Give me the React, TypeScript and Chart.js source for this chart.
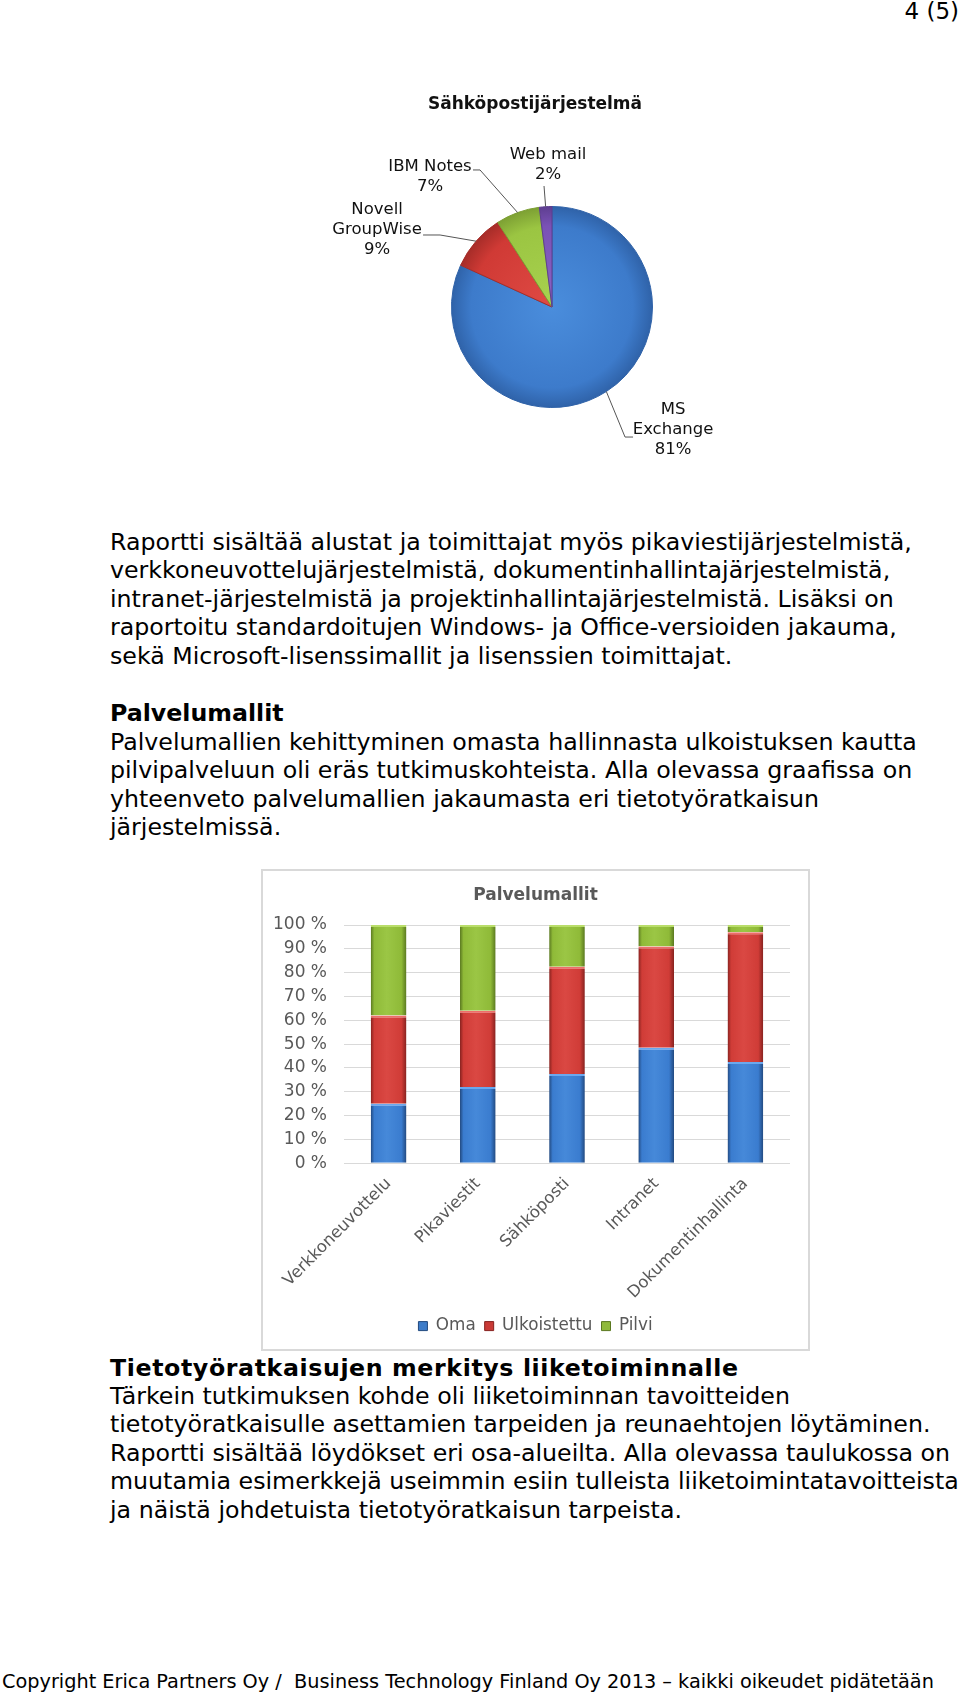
import React, { useEffect, useRef } from 'react';
import { Chart, registerables } from 'chart.js';

Chart.register(...registerables);

// ---------- data ----------
const pieTitle = 'Sähköpostijärjestelmä';
const pieLabelLines = [['MS', 'Exchange'], ['Novell', 'GroupWise'], ['IBM Notes'], ['Web mail']];
const pieValues = [81, 9, 7, 2];

const barTitle = 'Palvelumallit';
const barCategories = ['Verkkoneuvottelu', 'Pikaviestit', 'Sähköposti', 'Intranet', 'Dokumentinhallinta'];
const seriesNames = ['Oma', 'Ulkoistettu', 'Pilvi'];
const omaValues = [25, 32, 37.5, 48.5, 42.5];
const ulkoistettuValues = [37, 32, 45, 42.5, 54.5];
const pilviValues = [38, 36, 17.5, 9, 3];

const para1 = [
  'Raportti sisältää alustat ja toimittajat myös pikaviestijärjestelmistä,',
  'verkkoneuvottelujärjestelmistä, dokumentinhallintajärjestelmistä,',
  'intranet-järjestelmistä ja projektinhallintajärjestelmistä. Lisäksi on',
  'raportoitu standardoitujen Windows- ja Office-versioiden jakauma,',
  'sekä Microsoft-lisenssimallit ja lisenssien toimittajat.',
];
const heading1 = 'Palvelumallit';
const para2 = [
  'Palvelumallien kehittyminen omasta hallinnasta ulkoistuksen kautta',
  'pilvipalveluun oli eräs tutkimuskohteista. Alla olevassa graafissa on',
  'yhteenveto palvelumallien jakaumasta eri tietotyöratkaisun',
  'järjestelmissä.',
];
const heading2 = 'Tietotyöratkaisujen merkitys liiketoiminnalle';
const para3 = [
  'Tärkein tutkimuksen kohde oli liiketoiminnan tavoitteiden',
  'tietotyöratkaisulle asettamien tarpeiden ja reunaehtojen löytäminen.',
  'Raportti sisältää löydökset eri osa-alueilta. Alla olevassa taulukossa on',
  'muutamia esimerkkejä useimmin esiin tulleista liiketoimintatavoitteista',
  'ja näistä johdetuista tietotyöratkaisun tarpeista.',
];
const footerText = 'Copyright Erica Partners Oy /  Business Technology Finland Oy 2013 – kaikki oikeudet pidätetään';
const pageNumber = '4 (5)';

// ---------- styles ----------
const FONT = "'DejaVu Sans', Verdana, sans-serif";
const PIE_COLORS = [
  { light: '#4a8ddc', mid: '#3d7bcb', dark: '#2f62a8' },
  { light: '#df4a44', mid: '#d03a35', dark: '#a52c28' },
  { light: '#a8d24f', mid: '#9bc542', dark: '#7c9f33' },
  { light: '#8a63c4', mid: '#7a52b6', dark: '#5e3e90' },
];
const BAR_COLORS = [
  { edge: '#22497f', mid: '#3a7ccf', light: '#4689d9', top: '#6aa8ee', solid: '#3d7cc9' },
  { edge: '#86221f', mid: '#d03c37', light: '#da4843', top: '#ee6e69', solid: '#c93a36' },
  { edge: '#5a7820', mid: '#8fba38', light: '#9bc645', top: '#b9dd6a', solid: '#8fb93a' },
];
// callout geometry relative to the outer middle point of each slice
const PIE_CALLOUTS = [
  { elbow: [18.7, 45.5], end: [26.7, 45.5], text: [66.7, 38.5] },
  { elbow: [-36, -6.2], end: [-53, -6.2], text: [-99, -11] },
  { elbow: [-37.6, -42.6], end: [-44.6, -42.6], text: [-87.6, -35.6] },
  { elbow: [-1.6, -20.7], end: [-1.6, -20.7], text: [2.4, -41.7] },
];

const pieCalloutPlugin = {
  id: 'pieCallouts',
  afterDatasetsDraw(chart: any) {
    const ctx = chart.ctx;
    const meta = chart.getDatasetMeta(0);
    ctx.save();
    meta.data.forEach((arc: any, i: number) => {
      const p = arc.getProps(['x', 'y', 'startAngle', 'endAngle', 'outerRadius'], true);
      const mid = (p.startAngle + p.endAngle) / 2;
      const px = p.x + Math.cos(mid) * p.outerRadius;
      const py = p.y + Math.sin(mid) * p.outerRadius;
      const c = PIE_CALLOUTS[i];
      ctx.strokeStyle = '#555';
      ctx.lineWidth = 1;
      ctx.beginPath();
      ctx.moveTo(px, py);
      ctx.lineTo(px + c.elbow[0], py + c.elbow[1]);
      ctx.lineTo(px + c.end[0], py + c.end[1]);
      ctx.stroke();
      const lines = [...pieLabelLines[i], pieValues[i] + '%'];
      ctx.fillStyle = '#111';
      ctx.font = `16.5px ${FONT}`;
      ctx.textAlign = 'center';
      ctx.textBaseline = 'middle';
      const cx = px + c.text[0];
      const cy = py + c.text[1];
      lines.forEach((t, k) => {
        ctx.fillText(t, cx, cy + (k - (lines.length - 1) / 2) * 20);
      });
    });
    ctx.font = `bold 17px ${FONT}`;
    ctx.fillStyle = '#111';
    ctx.textAlign = 'center';
    ctx.textBaseline = 'middle';
    ctx.fillText(pieTitle, 275, 45);
    ctx.restore();
  },
};

function PieChart() {
  const ref = useRef<HTMLCanvasElement>(null);
  useEffect(() => {
    if (!ref.current) return;
    const chart = new Chart(ref.current, {
      type: 'pie',
      data: {
        labels: pieLabelLines.map((l) => l.join(' ')),
        datasets: [
          {
            data: pieValues,
            backgroundColor: (ctx: any) => {
              const c = PIE_COLORS[ctx.dataIndex];
              const a = ctx.chart.chartArea;
              if (!a) return c.mid;
              const cx = (a.left + a.right) / 2;
              const cy = (a.top + a.bottom) / 2;
              const r = Math.min(a.width, a.height) / 2;
              const g = ctx.chart.ctx.createRadialGradient(cx, cy, 0, cx, cy, r);
              g.addColorStop(0, c.light);
              g.addColorStop(0.8, c.mid);
              g.addColorStop(1, c.dark);
              return g;
            },
            borderColor: PIE_COLORS.map((c) => c.dark),
            borderWidth: 1,
          },
        ],
      },
      options: {
        animation: false,
        responsive: false,
        maintainAspectRatio: false,
        layout: { padding: { left: 191, right: 107, top: 146, bottom: 72 } },
        plugins: { legend: { display: false }, tooltip: { enabled: false }, title: { display: false } },
      },
      plugins: [pieCalloutPlugin],
    } as any);
    return () => chart.destroy();
  }, []);
  return (
    <canvas
      ref={ref}
      width={500}
      height={420}
      style={{ position: 'absolute', left: 260, top: 60, width: 500, height: 420 }}
    />
  );
}

function barFill(series: number) {
  return (ctx: any) => {
    const c = BAR_COLORS[series];
    const chart = ctx.chart;
    if (!chart.chartArea || !chart.scales || !chart.scales.x) return c.solid;
    const x = chart.scales.x.getPixelForValue(ctx.dataIndex);
    const half = (chart.scales.x.width / barCategories.length) * 0.2;
    const g = chart.ctx.createLinearGradient(x - half, 0, x + half, 0);
    g.addColorStop(0, c.edge);
    g.addColorStop(0.1, c.mid);
    g.addColorStop(0.45, c.light);
    g.addColorStop(0.86, c.mid);
    g.addColorStop(1, c.edge);
    return g;
  };
}

function BarChart() {
  const ref = useRef<HTMLCanvasElement>(null);
  useEffect(() => {
    if (!ref.current) return;
    const seriesData = [omaValues, ulkoistettuValues, pilviValues];
    const chart = new Chart(ref.current, {
      type: 'bar',
      data: {
        labels: barCategories,
        datasets: seriesNames.map((name, i) => ({
          label: name,
          data: seriesData[i],
          backgroundColor: barFill(i),
          borderColor: BAR_COLORS[i].top,
          borderWidth: { top: 2, left: 0, right: 0, bottom: 0 },
          borderSkipped: false,
          categoryPercentage: 1,
          barPercentage: 0.4,
          yAxisID: 'y',
        })),
      },
      options: {
        animation: false,
        responsive: false,
        maintainAspectRatio: false,
        layout: { padding: { top: 0, left: 0, right: 0, bottom: 4.5 } },
        scales: {
          x: {
            stacked: true,
            grid: { display: false, drawTicks: false },
            border: { display: false },
            ticks: {
              minRotation: 45,
              maxRotation: 45,
              autoSkip: false,
              padding: 11,
              font: { family: FONT, size: 16.5 },
              color: '#595959',
            },
            afterFit: (s: any) => {
              s.height = 145.5;
              s.paddingLeft = 0;
              s.paddingRight = 0;
            },
          },
          y: {
            stacked: true,
            position: 'left',
            min: 0,
            max: 100,
            ticks: {
              stepSize: 10,
              padding: 17,
              font: { family: FONT, size: 17 },
              color: '#595959',
              callback: (v: any) => v + ' %',
            },
            grid: { color: '#d9d9d9', drawTicks: false },
            border: { display: false },
            afterFit: (s: any) => {
              s.width = 81;
            },
          },
          yRight: {
            type: 'linear',
            position: 'right',
            display: true,
            min: 0,
            max: 100,
            grid: { display: false, drawTicks: false },
            border: { display: false },
            ticks: { display: false },
            afterFit: (s: any) => {
              s.width = 18;
            },
          },
        },
        plugins: {
          title: {
            display: true,
            text: barTitle,
            color: '#595959',
            font: { family: FONT, size: 17, weight: 'bold' },
            padding: { top: 14.8, bottom: 18.8 },
          },
          legend: {
            position: 'bottom',
            labels: {
              boxWidth: 9,
              boxHeight: 9,
              padding: 9,
              color: '#595959',
              font: { family: FONT, size: 16.8 },
              generateLabels: () =>
                seriesNames.map((n, i) => ({
                  text: n,
                  fillStyle: BAR_COLORS[i].solid,
                  strokeStyle: BAR_COLORS[i].edge,
                  lineWidth: 1,
                  hidden: false,
                  datasetIndex: i,
                  fontColor: '#595959',
                })),
            },
          },
          tooltip: { enabled: false },
        },
      },
    } as any);
    return () => chart.destroy();
  }, []);
  return (
    <div
      style={{
        position: 'absolute',
        left: 261,
        top: 869,
        width: 549,
        height: 482,
        boxSizing: 'border-box',
        border: '2px solid #d9d9d9',
        background: '#fff',
      }}
    >
      <canvas ref={ref} width={545} height={478} style={{ display: 'block', width: 545, height: 478 }} />
    </div>
  );
}

function Lines({
  lines,
  top,
  bold,
  spacing,
}: {
  lines: string[];
  top: number;
  bold?: boolean;
  spacing?: number;
}) {
  return (
    <div
      style={{
        position: 'absolute',
        left: 110,
        top,
        fontSize: 23.7,
        lineHeight: '28.4px',
        fontWeight: bold ? 'bold' : 'normal',
        letterSpacing: spacing ? spacing + 'px' : 'normal',
        color: '#000',
        whiteSpace: 'nowrap',
      }}
    >
      {lines.map((l, i) => (
        <div key={i}>{l}</div>
      ))}
    </div>
  );
}

export default function App() {
  useEffect(() => {
    document.body.style.margin = '0';
    document.body.style.background = '#fff';
  }, []);
  return (
    <div
      style={{
        position: 'absolute',
        left: 0,
        top: 0,
        width: 960,
        height: 1693,
        overflow: 'hidden',
        background: '#fff',
        fontFamily: FONT,
        color: '#000',
      }}
    >
      <div style={{ position: 'absolute', right: 1, top: 0, fontSize: 23, lineHeight: '22px', whiteSpace: 'nowrap' }}>
        {pageNumber}
      </div>
      <PieChart />
      <Lines lines={para1} top={528} />
      <Lines lines={[heading1]} top={699} bold />
      <Lines lines={para2} top={728} />
      <BarChart />
      <Lines lines={[heading2]} top={1354} bold spacing={0.6} />
      <Lines lines={para3} top={1382} />
      <div
        style={{
          position: 'absolute',
          left: 2,
          top: 1671,
          fontSize: 19.3,
          lineHeight: '22px',
          whiteSpace: 'pre',
        }}
      >
        {footerText}
      </div>
    </div>
  );
}
